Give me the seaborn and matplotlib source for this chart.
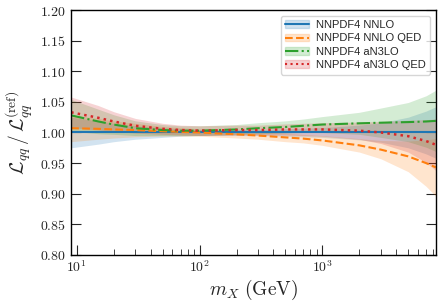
import numpy as np
import pandas as pd
import matplotlib
matplotlib.use("Agg")
import matplotlib.pyplot as plt
import seaborn as sns
from matplotlib.patches import Patch
from matplotlib.lines import Line2D

sns.set_style("ticks")
plt.rcParams["mathtext.fontset"] = "cm"
plt.rcParams["font.family"] = ["DejaVu Serif"]

mass = [9, 15, 20, 30, 50, 70, 100, 200, 300, 500, 700, 1000, 2000, 3000, 5000, 7000, 8400]

nnlo_c = [1.0] * 17
nnlo_e = [0.025, 0.019, 0.015, 0.011, 0.008, 0.006, 0.005, 0.005, 0.005, 0.006, 0.007, 0.008, 0.012, 0.016, 0.025, 0.035, 0.042]

nnloqed_c = [1.007, 1.006, 1.005, 1.004, 1.002, 1.001, 1.0, 0.997, 0.995, 0.992, 0.990, 0.987, 0.979, 0.972, 0.961, 0.950, 0.943]
nnloqed_e = [0.022, 0.017, 0.014, 0.011, 0.008, 0.007, 0.006, 0.006, 0.006, 0.007, 0.007, 0.008, 0.011, 0.015, 0.025, 0.038, 0.047]

an3lo_c = [1.028, 1.018, 1.013, 1.007, 1.004, 1.003, 1.003, 1.005, 1.007, 1.009, 1.011, 1.013, 1.015, 1.016, 1.017, 1.018, 1.019]
an3lo_e = [0.026, 0.020, 0.016, 0.012, 0.009, 0.008, 0.008, 0.008, 0.009, 0.010, 0.011, 0.013, 0.018, 0.024, 0.032, 0.042, 0.050]

an3loqed_c = [1.033, 1.024, 1.018, 1.011, 1.006, 1.004, 1.003, 1.004, 1.004, 1.005, 1.005, 1.005, 1.003, 1.000, 0.994, 0.986, 0.980]
an3loqed_e = [0.025, 0.020, 0.016, 0.012, 0.009, 0.008, 0.008, 0.008, 0.008, 0.009, 0.010, 0.011, 0.014, 0.018, 0.026, 0.035, 0.042]

labels = ["NNPDF4 NNLO", "NNPDF4 NNLO QED", "NNPDF4 aN3LO", "NNPDF4 aN3LO QED"]
centers = [nnlo_c, nnloqed_c, an3lo_c, an3loqed_c]
errors = [nnlo_e, nnloqed_e, an3lo_e, an3loqed_e]
styles = ["-", "--", "-.", ":"]
colors = sns.color_palette("tab10", 4)

frames = []
for lab, c, e in zip(labels, centers, errors):
    frames.append(pd.DataFrame({"mass": mass, "ratio": c, "err": e, "set": lab}))
df = pd.concat(frames, ignore_index=True)

fig = plt.figure(figsize=(4.42, 3.06), dpi=100)
ax = fig.add_axes([0.161, 0.167, 0.825, 0.80])

handles = []
for lab, ls, col in zip(labels, styles, colors):
    d = df[df["set"] == lab]
    ax.fill_between(d["mass"], d["ratio"] - d["err"], d["ratio"] + d["err"],
                    color=col, alpha=0.2, linewidth=0)
    sns.lineplot(data=d, x="mass", y="ratio", ax=ax, color=col, linestyle=ls,
                 linewidth=1.5 if ls != ":" else 1.8, legend=False)
    handles.append((Patch(facecolor=col, alpha=0.2, edgecolor=col),
                    Line2D([], [], color=col, linestyle=ls, linewidth=1.5)))

ax.set_xscale("log")
ax.set_xlim(mass[0], mass[-1])
ax.set_ylim(0.80, 1.20)
yt = np.arange(0.80, 1.2001, 0.05)
ax.set_yticks(yt)
ax.set_yticklabels([r"$%.2f$" % v for v in yt])
ax.set_xticks([10, 100, 1000])
ax.set_xticklabels([r"$10^{1}$", r"$10^{2}$", r"$10^{3}$"])
ax.tick_params(axis="both", which="major", direction="in", labelsize=10, length=7, width=0.8)
ax.tick_params(axis="x", which="minor", direction="in", length=4, width=0.6)
ax.tick_params(axis="y", right=True, which="major")
ax.tick_params(axis="y", which="minor", left=False, right=False)
for s in ax.spines.values():
    s.set_linewidth(1.0)
    s.set_color("black")

ax.set_xlabel(r"$m_X\ (\mathrm{GeV})$", fontsize=14, labelpad=2)
ax.set_ylabel(r"$\mathcal{L}_{qq}\,/\,\mathcal{L}_{qq}^{(\mathrm{ref})}$", fontsize=14, labelpad=4)

leg = ax.legend(handles, labels, loc="upper right",
                prop={"family": "Liberation Sans", "size": 8},
                frameon=True, fancybox=True, handlelength=2.2, borderpad=0.4,
                labelspacing=0.3, handletextpad=0.6)
leg.get_frame().set_edgecolor("#cccccc")

fig.savefig("out.png", dpi=100)
